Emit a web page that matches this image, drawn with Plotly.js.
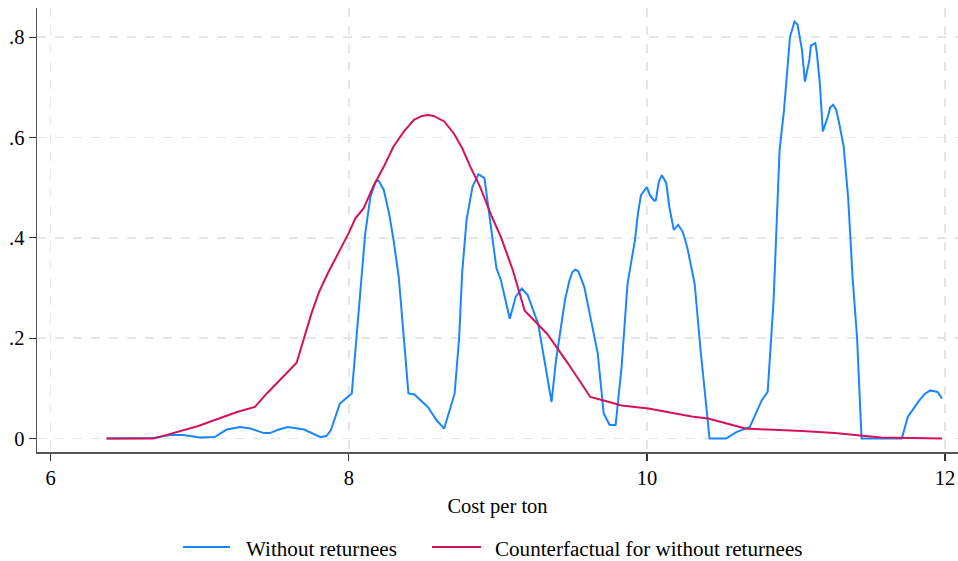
<!DOCTYPE html>
<html>
<head>
<meta charset="utf-8">
<script src="https://cdn.plot.ly/plotly-3.0.1.min.js"></script>
<style>html,body{margin:0;padding:0;background:#fff;}#chart{width:958px;height:561px;}</style>
</head>
<body>
<div id="chart"></div>
<script>
// Without returnees (blue)
const withoutX = [6.375, 6.55, 6.69, 6.80, 6.89, 7.00, 7.10, 7.18, 7.27, 7.34, 7.43, 7.47, 7.53, 7.59, 7.70, 7.81, 7.85, 7.88, 7.94, 8.02, 8.05, 8.08, 8.11, 8.145, 8.18, 8.20, 8.235, 8.27, 8.30, 8.335, 8.37, 8.40, 8.44, 8.53, 8.59, 8.64, 8.71, 8.74, 8.76, 8.79, 8.83, 8.87, 8.91, 8.93, 8.96, 8.99, 9.02, 9.08, 9.12, 9.16, 9.20, 9.27, 9.32, 9.36, 9.39, 9.45, 9.48, 9.50, 9.52, 9.54, 9.56, 9.58, 9.62, 9.67, 9.71, 9.75, 9.79, 9.83, 9.87, 9.92, 9.94, 9.96, 10.00, 10.02, 10.05, 10.06, 10.08, 10.10, 10.13, 10.15, 10.18, 10.21, 10.24, 10.27, 10.32, 10.36, 10.42, 10.53, 10.60, 10.69, 10.77, 10.81, 10.85, 10.87, 10.89, 10.92, 10.94, 10.96, 10.99, 11.01, 11.04, 11.06, 11.09, 11.10, 11.13, 11.14, 11.16, 11.18, 11.21, 11.23, 11.25, 11.27, 11.29, 11.32, 11.35, 11.38, 11.41, 11.44, 11.71, 11.75, 11.82, 11.86, 11.90, 11.95, 11.98];
const withoutY = [0.0, 0.0, 0.001, 0.007, 0.007, 0.002, 0.003, 0.018, 0.023, 0.02, 0.011, 0.011, 0.018, 0.023, 0.018, 0.003, 0.005, 0.017, 0.07, 0.09, 0.2, 0.316, 0.409, 0.482, 0.512, 0.514, 0.495, 0.449, 0.396, 0.322, 0.2, 0.09, 0.088, 0.063, 0.036, 0.02, 0.09, 0.2, 0.329, 0.436, 0.502, 0.527, 0.519, 0.475, 0.402, 0.34, 0.316, 0.239, 0.283, 0.299, 0.286, 0.229, 0.143, 0.073, 0.156, 0.276, 0.315, 0.332, 0.337, 0.333, 0.318, 0.302, 0.243, 0.17, 0.05, 0.027, 0.027, 0.143, 0.309, 0.396, 0.449, 0.485, 0.501, 0.485, 0.474, 0.475, 0.512, 0.525, 0.509, 0.462, 0.416, 0.426, 0.412, 0.382, 0.309, 0.176, 0.0, 0.0, 0.013, 0.023, 0.076, 0.093, 0.276, 0.44, 0.575, 0.655, 0.735, 0.801, 0.831, 0.825, 0.775, 0.711, 0.755, 0.783, 0.788, 0.768, 0.708, 0.612, 0.638, 0.660, 0.665, 0.655, 0.628, 0.582, 0.48, 0.32, 0.2, 0.0, 0.0, 0.043, 0.073, 0.088, 0.096, 0.093, 0.08];

// Counterfactual for without returnees (red)
const counterX = [6.375, 6.69, 6.99, 7.25, 7.37, 7.45, 7.65, 7.70, 7.75, 7.80, 7.86, 7.93, 8.00, 8.044, 8.10, 8.168, 8.235, 8.30, 8.37, 8.437, 8.49, 8.53, 8.57, 8.64, 8.705, 8.76, 8.815, 8.88, 8.96, 9.02, 9.10, 9.18, 9.33, 9.47, 9.62, 9.71, 9.83, 10.01, 10.30, 10.41, 10.66, 11.04, 11.26, 11.57, 11.98];
const counterY = [0.0, 0.0, 0.025, 0.053, 0.063, 0.09, 0.151, 0.20, 0.25, 0.292, 0.33, 0.37, 0.41, 0.439, 0.459, 0.505, 0.542, 0.582, 0.612, 0.635, 0.643, 0.645, 0.643, 0.632, 0.608, 0.579, 0.542, 0.502, 0.442, 0.402, 0.336, 0.255, 0.209, 0.150, 0.083, 0.076, 0.066, 0.06, 0.044, 0.040, 0.020, 0.015, 0.011, 0.002, 0.0];

const xTickVals = [6, 8, 10, 12];
const xTickText = ["6", "8", "10", "12"];
const yTickVals = [0, 0.2, 0.4, 0.6, 0.8];
const yTickText = ["0", ".2", ".4", ".6", ".8"];

const seriesNames = ["Without returnees", "Counterfactual for without returnees"];
const seriesColors = ["#1A85FF", "#D41159"];

const font = "Liberation Serif, Times New Roman, serif";
const fs = 20.5;
const legendFs = 21.1;

const traces = [
  {x: withoutX, y: withoutY, type: "scatter", mode: "lines", name: seriesNames[0],
   line: {color: seriesColors[0], width: 2}},
  {x: counterX, y: counterY, type: "scatter", mode: "lines", name: seriesNames[1],
   line: {color: seriesColors[1], width: 2}}
];

// legend drawn in paper coordinates (plot area: x 37..958 px, y 8..452 px)
const px = v => (v - 37) / 921;
const py = v => (452 - v) / 444;
const legendLines = [[183, 230], [432, 481]];
const legendTextX = [244, 493];
const shapes = legendLines.map((ln, i) => ({
  type: "line", xref: "paper", yref: "paper",
  x0: px(ln[0]), x1: px(ln[1]), y0: py(547), y1: py(547),
  line: {color: seriesColors[i], width: 2}
}));
const annotations = legendTextX.map((tx, i) => ({
  xref: "paper", yref: "paper", x: px(tx), y: py(549), xanchor: "left", yanchor: "middle",
  text: seriesNames[i], showarrow: false, font: {family: font, size: legendFs, color: "#000"}
}));

const layout = {
  width: 958, height: 561,
  margin: {l: 37, r: 0, t: 8, b: 109, autoexpand: false},
  paper_bgcolor: "#fff", plot_bgcolor: "#fff",
  font: {family: font, size: fs, color: "#000"},
  showlegend: false,
  shapes: shapes,
  annotations: annotations,
  xaxis: {
    range: [5.908, 12.087], tickvals: xTickVals, ticktext: xTickText,
    showgrid: true, gridcolor: "#e6e6e6", griddash: "dash", gridwidth: 1.5,
    zeroline: false, showline: true, linecolor: "#555", linewidth: 1.5,
    ticks: "outside", ticklen: 7, tickcolor: "#333", tickwidth: 1.2,
    tickfont: {family: font, size: fs, color: "#000"},
    title: {text: "Cost per ton", font: {family: font, size: fs, color: "#000"}, standoff: 10},
    automargin: false, fixedrange: true
  },
  yaxis: {
    range: [-0.0267, 0.858], tickvals: yTickVals, ticktext: yTickText,
    showgrid: true, gridcolor: "#e6e6e6", griddash: "dash", gridwidth: 1.5,
    zeroline: false, showline: true, linecolor: "#555", linewidth: 1.5,
    ticks: "outside", ticklen: 7, tickcolor: "#333", tickwidth: 1.2,
    tickfont: {family: font, size: fs, color: "#000"},
    automargin: false, fixedrange: true
  }
};

Plotly.newPlot("chart", traces, layout, {displayModeBar: false, staticPlot: true});
</script>
</body>
</html>
